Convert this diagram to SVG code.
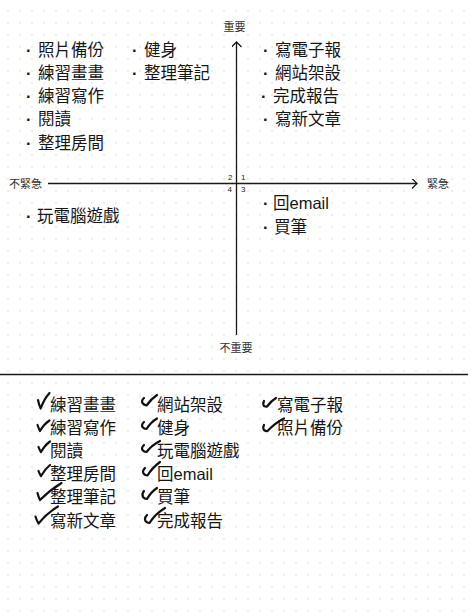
<svg xmlns="http://www.w3.org/2000/svg" xmlns:xlink="http://www.w3.org/1999/xlink" width="474" height="612" viewBox="0 0 474 612">
<style>
.t{font-family:"Liberation Sans","Noto Sans CJK TC","Noto Sans CJK SC",sans-serif;font-size:16.5px;fill:#161616}
.b{font-weight:bold}
.s{font-family:"Noto Sans CJK TC","Noto Sans CJK SC",sans-serif;font-size:11px;fill:#333}
.n{font-family:"Liberation Sans",sans-serif;font-size:8px;fill:#222}
.ax{stroke:#1a1a1a;stroke-width:1.3;fill:none}
.ck{stroke:#111;stroke-width:2.2;fill:none;stroke-linecap:round;stroke-linejoin:round}
</style>
<defs>
<pattern id="dots" width="12" height="12" patternUnits="userSpaceOnUse">
<circle cx="8" cy="11" r="0.7" fill="#cfcfcf"/>
</pattern>
<marker id="arr" markerWidth="12" markerHeight="12" refX="6" refY="5" orient="auto" markerUnits="userSpaceOnUse">
<path d="M1,0 L6,5 L1,10" stroke="#1a1a1a" stroke-width="1.3" fill="none"/>
</marker>
</defs>
<rect width="474" height="612" fill="#ffffff"/>
<rect width="474" height="612" fill="url(#dots)"/>

<g id="connectors">
<line class="ax" x1="236.5" y1="335" x2="236.5" y2="42" marker-end="url(#arr)"/>
<line class="ax" x1="48" y1="183.5" x2="417" y2="183.5" marker-end="url(#arr)"/>
<line class="ax" x1="0" y1="374.5" x2="468" y2="374.5"/>
</g>

<g id="axis-labels">
<text class="s" x="234.5" y="31" text-anchor="middle">重要</text>
<text class="s" x="236" y="352" text-anchor="middle">不重要</text>
<text class="s" x="9" y="188">不緊急</text>
<text class="s" x="427" y="188">緊急</text>
<text class="n" x="228" y="180">2</text>
<text class="n" x="241" y="180">1</text>
<text class="n" x="227.5" y="192">4</text>
<text class="n" x="241" y="192">3</text>
</g>

<g id="q2">
<g id="q2-1"><text class="t" y="55.5"><tspan class="b" x="26">·</tspan><tspan x="38">照片備份</tspan></text></g>
<g id="q2-2"><text class="t" y="78.5"><tspan class="b" x="26">·</tspan><tspan x="38">練習畫畫</tspan></text></g>
<g id="q2-3"><text class="t" y="102"><tspan class="b" x="26">·</tspan><tspan x="38">練習寫作</tspan></text></g>
<g id="q2-4"><text class="t" y="125"><tspan class="b" x="26">·</tspan><tspan x="38">閱讀</tspan></text></g>
<g id="q2-5"><text class="t" y="148.5"><tspan class="b" x="26">·</tspan><tspan x="38">整理房間</tspan></text></g>
<g id="q2-6"><text class="t" y="55.5"><tspan class="b" x="132">·</tspan><tspan x="144">健身</tspan></text></g>
<g id="q2-7"><text class="t" y="78.5"><tspan class="b" x="132">·</tspan><tspan x="144">整理筆記</tspan></text></g>
</g>

<g id="q1">
<g id="q1-1"><text class="t" y="55.5"><tspan class="b" x="263">·</tspan><tspan x="275">寫電子報</tspan></text></g>
<g id="q1-2"><text class="t" y="78.5"><tspan class="b" x="263">·</tspan><tspan x="275">網站架設</tspan></text></g>
<g id="q1-3"><text class="t" y="102"><tspan class="b" x="261">·</tspan><tspan x="273">完成報告</tspan></text></g>
<g id="q1-4"><text class="t" y="125"><tspan class="b" x="263">·</tspan><tspan x="275">寫新文章</tspan></text></g>
</g>

<g id="q4">
<g id="q4-1"><text class="t" y="221.5"><tspan class="b" x="26">·</tspan><tspan x="37">玩電腦遊戲</tspan></text></g>
</g>

<g id="q3">
<g id="q3-1"><text class="t" y="209"><tspan class="b" x="263">·</tspan><tspan x="273">回email</tspan></text></g>
<g id="q3-2"><text class="t" y="233"><tspan class="b" x="263">·</tspan><tspan x="274">買筆</tspan></text></g>
</g>

<g id="done">
<g id="d1"><path class="ck" d="M38,400 Q39,405 40.7,408.5 Q44,399 49.5,393"/><text class="t" x="50" y="410.5">練習畫畫</text></g>
<g id="d2"><path class="ck" d="M37.5,425 Q38.5,428 40,431 Q44,424 49.5,420.5"/><text class="t" x="50" y="433.5">練習寫作</text></g>
<g id="d3"><path class="ck" d="M38.5,447 Q39.5,450 41,452 Q45,445 50,441.5"/><text class="t" x="50" y="456.5">閱讀</text></g>
<g id="d4"><path class="ck" d="M38.5,471 Q39.5,474 41,476 Q45,469 50,465"/><text class="t" x="50" y="480">整理房間</text></g>
<g id="d5"><path class="ck" d="M37.5,493 Q38.5,497 40,500 Q50,490 61.5,483"/><text class="t" x="50" y="503">整理筆記</text></g>
<g id="d6"><path class="ck" d="M35.5,516.5 Q36.5,520 38.5,523.5 Q47,513 58,506.5"/><text class="t" x="50" y="526.5">寫新文章</text></g>

<g id="d7"><path class="ck" d="M144,398 Q141,401 142.5,403 Q144,405 146.5,405.5 Q151,399 157,395"/><text class="t" x="157" y="410.5">網站架設</text></g>
<g id="d8"><path class="ck" d="M144,422 Q141,425 142.5,427 Q144,429 146.5,429 Q151,422 157,418.5"/><text class="t" x="157" y="433.5">健身</text></g>
<g id="d9"><path class="ck" d="M144,445 Q141,448 142.5,450 Q144,452 146.5,452 Q152,445 160,441"/><text class="t" x="157" y="456.5">玩電腦遊戲</text></g>
<g id="d10"><path class="ck" d="M145,468 Q142,471 143.5,473.5 Q145,475.5 147.5,475.5 Q152,468 160,462"/><text class="t" x="157" y="480">回email</text></g>
<g id="d11"><path class="ck" d="M144,491 Q141.5,494 143,497 Q144.5,499 147,499 Q151,492 157,488"/><text class="t" x="157" y="503">買筆</text></g>
<g id="d12"><path class="ck" d="M147,515 Q144,518 145.5,521 Q147,523 149.5,523 Q155,514 165,508"/><text class="t" x="157" y="526.5">完成報告</text></g>

<g id="d13"><path class="ck" d="M264,401 Q262.5,404 264,406 Q266,407 267,406.5 Q271,401 276,398"/><text class="t" x="277" y="410.5">寫電子報</text></g>
<g id="d14"><path class="ck" d="M264,425 Q262.5,428 264,430 Q266,431.5 267.5,431 Q275,423 284,418.5"/><text class="t" x="277" y="433.5">照片備份</text></g>
</g>
</svg>
